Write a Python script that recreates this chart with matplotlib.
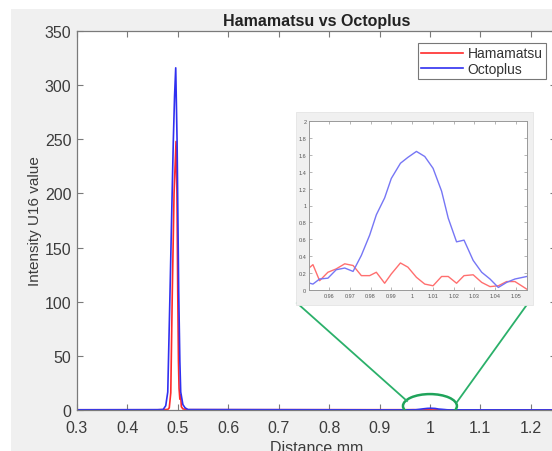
import numpy as np
import matplotlib
matplotlib.use("Agg")
import matplotlib.pyplot as plt
from matplotlib.patches import Ellipse, Rectangle
from matplotlib.lines import Line2D

plt.rcParams['font.family'] = ['Liberation Sans', 'DejaVu Sans']

# main trace (Distance mm, intensity)
oct_x = [0.30, 0.46, 0.471, 0.476, 0.480, 0.4845, 0.488, 0.491, 0.4935, 0.4958,
         0.4985, 0.5017, 0.5040, 0.5057, 0.510, 0.5143, 0.520, 0.95, 0.9716,
         0.9796, 0.9868, 0.9949, 1.0021, 1.0101, 1.0174, 1.0246, 1.0335, 1.0415,
         1.06, 1.25]
oct_y = [0.2, 0.3, 0.5, 4, 16.6, 109, 185, 248, 290, 316,
         248, 109, 45, 16.6, 5, 2, 0.4, 0.1, 0.22,
         0.65, 1.09, 1.50, 1.64, 1.44, 0.85, 0.59, 0.21, 0.03,
         0.15, 0.1]

ham_x = [0.30, 0.46, 0.480, 0.483, 0.486, 0.489, 0.4925, 0.4964, 0.4982, 0.4998,
         0.5012, 0.5024, 0.5040, 0.5055, 0.507, 0.510, 0.52, 0.95, 0.9676,
         0.9796, 0.9868, 0.9944, 1.0061, 1.0142, 1.0214, 1.0294, 1.0375, 1.06, 1.25]
ham_y = [0.2, 0.2, 0.5, 2, 16, 109, 200, 248, 200, 109,
         45, 20, 10, 14, 3, 1, 0.3, 0.26, 0.31,
         0.17, 0.08, 0.32, 0.07, 0.16, 0.08, 0.18, 0.04, 0.05, 0.1]

# zoomed region around 1 mm
zoom_x = [0.9504, 0.9523, 0.9555, 0.9595, 0.9635, 0.9676, 0.9716, 0.9756, 0.9796,
          0.9828, 0.9868, 0.9900, 0.9944, 0.9980, 1.0021, 1.0061, 1.0101, 1.0142,
          1.0174, 1.0214, 1.0250, 1.0294, 1.0335, 1.0375, 1.0415, 1.0455, 1.0495,
          1.0552]
zoom_oct = [0.083, 0.07, 0.13, 0.14, 0.24, 0.26, 0.22, 0.41, 0.65,
            0.89, 1.09, 1.32, 1.50, 1.57, 1.64, 1.58, 1.44, 1.17,
            0.85, 0.57, 0.59, 0.35, 0.21, 0.13, 0.03, 0.09, 0.13,
            0.16]
zoom_ham = [0.26, 0.30, 0.11, 0.21, 0.25, 0.31, 0.29, 0.17, 0.17,
            0.21, 0.08, 0.19, 0.32, 0.27, 0.15, 0.07, 0.05, 0.16,
            0.16, 0.08, 0.17, 0.18, 0.09, 0.04, 0.05, 0.10, 0.10,
            0.01]

W, H = 552, 452
fig = plt.figure(figsize=(W / 100, H / 100), dpi=100, facecolor='white')

def fx(px):
    return px / W

def fy(py):
    return 1 - py / H

# grey MATLAB figure background (screenshot has a white margin top/left)
fig.patches.append(Rectangle((fx(11), 0), 1, fy(10), transform=fig.transFigure,
                             facecolor='#f0f0f0', edgecolor='none', zorder=-10))

spine_c = '#7a7a7a'
txt_c = '#3c3c3c'

ax = fig.add_axes([fx(77), fy(411), fx(556) - fx(77), fy(32) - fy(411)])
ax.plot(ham_x, ham_y, color='#ff2a2a', lw=1.2, label='Hamamatsu')
ax.plot(oct_x, oct_y, color='#3030f0', lw=1.2, label='Octoplus')
ax.set_xlim(0.3, 1.25)
ax.set_ylim(0, 350)
ax.set_xticks(np.arange(0.3, 1.21, 0.1))
ax.set_xticklabels(['0.3', '0.4', '0.5', '0.6', '0.7', '0.8', '0.9', '1', '1.1', '1.2'])
ax.set_yticks(np.arange(0, 351, 50))
ax.tick_params(direction='in', top=True, right=True, length=4, width=0.8,
               color=spine_c, labelcolor=txt_c, labelsize=11.5)
ax.tick_params(axis='x', pad=7)
ax.tick_params(axis='y', pad=4)
for s in ax.spines.values():
    s.set_color(spine_c)
    s.set_linewidth(0.9)
ax.set_title('Hamamatsu vs Octoplus', fontsize=11.5, fontweight='bold', color='#222222', pad=4)
ax.set_xlabel('Distance mm', fontsize=11.5, color=txt_c, labelpad=4)
ax.set_ylabel('Intensity U16 value', fontsize=11, color=txt_c, labelpad=2)

leg = ax.legend(loc='upper right', bbox_to_anchor=(fx(546), fy(44)),
                bbox_transform=fig.transFigure, fontsize=10, frameon=True,
                fancybox=False, handlelength=3.0, handletextpad=0.35,
                borderpad=0.25, labelspacing=0.1, borderaxespad=0)
leg.get_frame().set_edgecolor('#555555')
leg.get_frame().set_linewidth(0.8)
for t in leg.get_texts():
    t.set_color('#333333')

# highlight ellipse around the small peak
ax.add_patch(Ellipse((1.0, 3.7), 0.107, 22, fill=False, edgecolor='#1fa35a', lw=1.8, zorder=5))

# connecting lines to inset
green = '#2bb06a'
fig.lines.append(Line2D([fx(297), fx(407)], [fy(304), fy(402)], transform=fig.transFigure,
                        color=green, lw=1.3))
fig.lines.append(Line2D([fx(531), fx(457)], [fy(300), fy(403)], transform=fig.transFigure,
                        color=green, lw=1.3))

# inset (pasted zoomed figure)
fig.patches.append(Rectangle((fx(296), fy(306)), fx(533) - fx(296), fy(113) - fy(306),
                             transform=fig.transFigure, facecolor='#f0f0f0',
                             edgecolor='#e4e4e4', lw=0.6, zorder=3))
ins = fig.add_axes([fx(309), fy(291), fx(527) - fx(309), fy(122) - fy(291)], zorder=4)
ins.plot(zoom_x, zoom_ham, color='#ff6f6f', lw=1.0)
ins.plot(zoom_x, zoom_oct, color='#7676f5', lw=1.0)
ins.set_xlim(0.9504, 1.0553)
ins.set_ylim(0, 2)
ins.set_xticks(np.arange(0.96, 1.051, 0.01))
ins.set_xticklabels(['0.96', '0.97', '0.98', '0.99', '1', '1.01', '1.02', '1.03', '1.04', '1.05'])
ins.set_yticks(np.arange(0, 2.01, 0.2))
ins.set_yticklabels(['0', '0.2', '0.4', '0.6', '0.8', '1', '1.2', '1.4', '1.6', '1.8', '2'])
ins.tick_params(direction='in', top=True, right=True, length=2, width=0.5,
                color='#999999', labelcolor='#555555', labelsize=4, pad=2)
for s in ins.spines.values():
    s.set_color('#999999')
    s.set_linewidth(0.7)

fig.savefig('out.png', dpi=100, facecolor=fig.get_facecolor())
